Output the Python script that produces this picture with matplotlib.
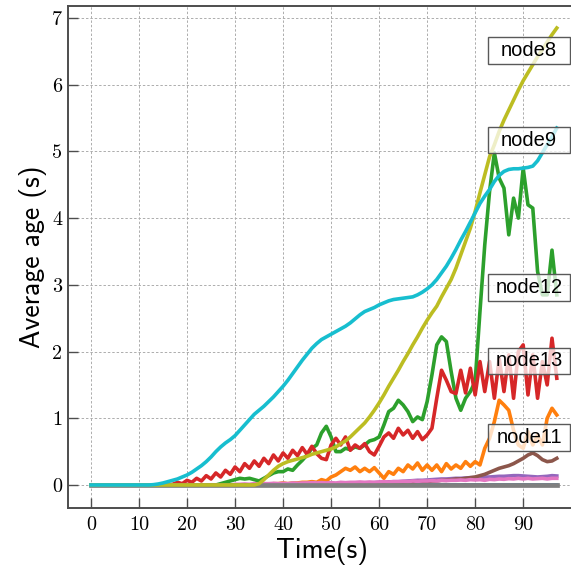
import matplotlib
matplotlib.use("Agg")
import matplotlib.pyplot as plt
from matplotlib.patches import Rectangle

# ---- data (one sample per second) ----
time_s = list(range(0, 98))

node9 = [0.0] * 13 + [
    0.005, 0.015, 0.03, 0.05, 0.07, 0.09, 0.12,
    0.15, 0.19, 0.24, 0.29, 0.35, 0.42, 0.50, 0.57, 0.63, 0.68,
    0.74, 0.82, 0.90, 0.98, 1.06, 1.12, 1.18, 1.25, 1.32, 1.40,
    1.48, 1.57, 1.67, 1.77, 1.87, 1.96, 2.05, 2.12, 2.18, 2.22,
    2.26, 2.30, 2.34, 2.38, 2.43, 2.49, 2.55, 2.60, 2.63, 2.66,
    2.70, 2.73, 2.76, 2.78, 2.79, 2.80, 2.81, 2.82, 2.85, 2.89,
    2.94, 3.00, 3.08, 3.18, 3.28, 3.40, 3.53, 3.67, 3.80, 3.94,
    4.08, 4.22, 4.33, 4.43, 4.55, 4.64, 4.70, 4.73, 4.74, 4.74,
    4.75, 4.76, 4.78, 4.86, 4.98, 5.10, 5.22, 5.35]

node8 = [0.0] * 35 + [
    0.02, 0.08, 0.15, 0.22, 0.28, 0.32, 0.35, 0.37, 0.39, 0.41,
    0.43, 0.46, 0.48, 0.50, 0.52, 0.54, 0.57, 0.62, 0.66, 0.72,
    0.79, 0.86, 0.93, 1.02, 1.12, 1.23, 1.35, 1.48, 1.60, 1.72,
    1.85, 1.97, 2.10, 2.22, 2.35, 2.47, 2.58, 2.68, 2.82, 2.95,
    3.08, 3.25, 3.45, 3.65, 3.85, 4.10, 4.38, 4.65, 4.92, 5.10,
    5.30, 5.47, 5.62, 5.77, 5.92, 6.06, 6.18, 6.30, 6.42, 6.53,
    6.64, 6.75, 6.85]

node12 = [0.0] * 27 + [
    0.02, 0.04, 0.06, 0.08, 0.10, 0.09, 0.10, 0.08, 0.06, 0.10,
    0.14, 0.18, 0.20, 0.20, 0.24, 0.22, 0.30, 0.37, 0.45, 0.55,
    0.60, 0.78, 0.88, 0.72, 0.50, 0.50, 0.55, 0.53, 0.57, 0.55,
    0.60, 0.66, 0.68, 0.72, 0.90, 1.10, 1.15, 1.27, 1.20, 1.10,
    0.95, 1.02, 0.98, 1.25, 1.65, 2.10, 2.22, 2.15, 1.70, 1.30,
    1.12, 1.30, 1.40, 1.55, 2.60, 3.60, 4.40, 4.98, 4.60, 4.45,
    3.75, 4.30, 4.00, 4.75, 4.20, 4.15, 3.20, 2.85, 2.85, 3.52,
    2.85]

node13 = [0.0] * 17 + [
    0.01, 0.04, 0.02, 0.07, 0.04, 0.10, 0.06, 0.14, 0.09, 0.18,
    0.12, 0.22, 0.16, 0.27, 0.20, 0.32, 0.25, 0.36, 0.28, 0.40,
    0.32, 0.45, 0.36, 0.48, 0.40, 0.52, 0.44, 0.56, 0.46, 0.58,
    0.47, 0.40, 0.38, 0.60, 0.70, 0.60, 0.72, 0.52, 0.60, 0.55,
    0.62, 0.50, 0.45, 0.58, 0.72, 0.78, 0.70, 0.85, 0.75, 0.82,
    0.70, 0.80, 0.68, 0.75, 0.85, 1.30, 1.72, 1.57, 1.40, 1.37,
    1.72, 1.38, 1.75, 1.35, 1.85, 1.40, 1.85, 1.30, 1.90, 1.40,
    1.95, 1.30, 2.00, 2.10, 1.35, 1.95, 1.30, 1.85, 1.50, 2.20,
    1.60]

node11 = [0.0] * 35 + [
    0.01, 0.02, 0.01, 0.02, 0.02, 0.03, 0.02, 0.03, 0.03, 0.04,
    0.04, 0.05, 0.04, 0.08, 0.06, 0.12, 0.15, 0.20, 0.25, 0.22,
    0.27, 0.20, 0.25, 0.20, 0.26, 0.18, 0.10, 0.20, 0.16, 0.25,
    0.20, 0.30, 0.24, 0.33, 0.22, 0.30, 0.22, 0.30, 0.20, 0.32,
    0.24, 0.30, 0.25, 0.35, 0.28, 0.35, 0.30, 0.55, 0.70, 0.95,
    1.27, 1.20, 1.12, 0.82, 0.60, 0.55, 0.80, 0.60, 0.75, 0.60,
    1.00, 1.15, 1.05]

brown_series = [0.0] * 45 + [
    0.01, 0.01, 0.02, 0.01, 0.02, 0.02, 0.01, 0.02, 0.02, 0.02,
    0.02, 0.03, 0.02, 0.03, 0.02, 0.03, 0.03, 0.04, 0.03, 0.04,
    0.03, 0.04, 0.04, 0.05, 0.05, 0.05, 0.06, 0.06, 0.07, 0.07,
    0.08, 0.09, 0.09, 0.10, 0.11, 0.12, 0.14, 0.16, 0.19, 0.22,
    0.25, 0.27, 0.29, 0.32, 0.36, 0.40, 0.45, 0.48, 0.44, 0.38,
    0.35, 0.36, 0.40]

purple_series = [0.0] * 50 + [
    0.005, 0.01, 0.01, 0.015, 0.02, 0.02, 0.025, 0.03, 0.03, 0.035,
    0.04, 0.04, 0.045, 0.05, 0.05, 0.055, 0.06, 0.065, 0.07, 0.07,
    0.075, 0.08, 0.085, 0.09, 0.09, 0.095, 0.10, 0.10, 0.105, 0.11,
    0.11, 0.115, 0.12, 0.12, 0.125, 0.13, 0.13, 0.135, 0.14, 0.14,
    0.135, 0.13, 0.125, 0.12, 0.125, 0.13, 0.14, 0.135]

pink_series = [0.0] * 30 + [
    0.01, 0.01, 0.015, 0.01, 0.02, 0.015, 0.02, 0.02, 0.025, 0.02,
    0.025, 0.02, 0.03, 0.025, 0.03, 0.03, 0.035, 0.03, 0.035, 0.03,
    0.035, 0.03, 0.04, 0.035, 0.04, 0.04, 0.045, 0.04, 0.045, 0.04,
    0.045, 0.05, 0.045, 0.05, 0.05, 0.055, 0.05, 0.06, 0.055, 0.06,
    0.06, 0.065, 0.06, 0.07, 0.065, 0.07, 0.07, 0.075, 0.07, 0.08,
    0.075, 0.08, 0.07, 0.085, 0.08, 0.09, 0.085, 0.095, 0.09, 0.10,
    0.09, 0.10, 0.09, 0.095, 0.10, 0.09, 0.10, 0.10]

blue_series = [0.0] * 61 + [0.01, 0.02, 0.01] + [0.0] * 34
gray_series = [0.0] * 98

series = [
    (blue_series, "tab:blue", None),
    (node11, "tab:orange", "node11"),
    (node12, "tab:green", "node12"),
    (node13, "tab:red", "node13"),
    (purple_series, "tab:purple", None),
    (brown_series, "tab:brown", None),
    (pink_series, "tab:pink", None),
    (gray_series, "tab:gray", None),
    (node8, "tab:olive", "node8"),
    (node9, "tab:cyan", "node9"),
]

# inline label anchors (time, value)
label_pos = {
    "node8": (91.25, 6.51),
    "node9": (91.25, 5.17),
    "node12": (91.25, 2.96),
    "node13": (91.25, 1.86),
    "node11": (91.25, 0.71),
}

xticks = list(range(0, 100, 10))
yticks = list(range(0, 8))

# ---- figure ----
W = H = 571
fig = plt.figure(figsize=(W / 100, H / 100), dpi=100)
ax = fig.add_axes([68 / W, 63 / H, (576 - 68) / W, (565 - 63) / H])

for ys, col, name in series:
    lw = 3.4 if col == "tab:gray" else 2.6
    ax.plot(time_s, ys, color=col, lw=lw, solid_joinstyle="round")

ax.set_xlim(-4.79, 101.0)
ax.set_ylim(-0.345, 7.18)
ax.set_xticks(xticks)
ax.set_yticks(yticks)
ax.set_xticklabels([str(v) for v in xticks], fontfamily="cmr10", fontsize=14.5)
ax.set_yticklabels([str(v) for v in yticks], fontfamily="cmr10", fontsize=14.5)
ax.tick_params(direction="in", length=7, width=1.0, color="0.3")
ax.tick_params(axis="x", pad=6)
ax.tick_params(axis="y", pad=4)

ax.grid(True, ls=(0, (2.5, 2)), lw=0.7, color="0.68")
ax.set_axisbelow(True)
for sp in ax.spines.values():
    sp.set_color("0.3")
    sp.set_linewidth(1.4)

ax.set_xlabel("Time(s)", fontfamily="cmss10", fontsize=20, labelpad=2)
ax.set_ylabel("Average age (s)", fontfamily="cmss10", fontsize=20, labelpad=4)

# boxed inline labels of fixed width
box_w, box_h = 17.0, 0.40
for name, (tx, ty) in label_pos.items():
    ax.add_patch(Rectangle((tx - box_w / 2, ty - box_h / 2), box_w, box_h,
                           facecolor=(1, 1, 1, 0.75), edgecolor="0.35",
                           lw=1.0, zorder=5))
    ax.text(tx, ty, name, ha="center", va="center", fontsize=14.5,
            fontfamily="Liberation Sans", color="black", zorder=6)

fig.savefig("out.png", dpi=100)
